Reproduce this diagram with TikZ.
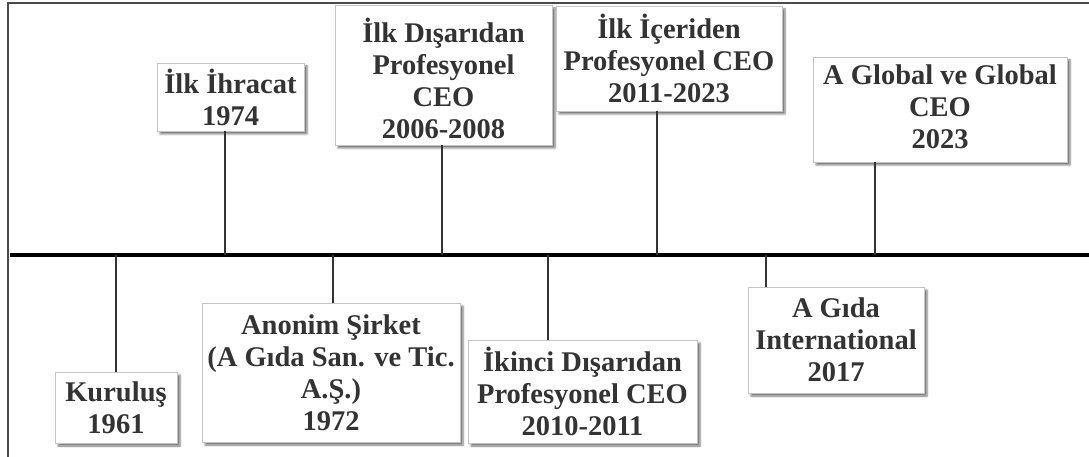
\documentclass[tikz,border=0pt]{standalone}
\usepackage{fontspec}
\setmainfont{Liberation Serif}
\usetikzlibrary{shadows.blur}

\definecolor{ink}{HTML}{333333}
\definecolor{edge}{HTML}{C4C4C4}
\definecolor{framecol}{HTML}{4A4A4A}

\tikzset{
  eventbox/.style={rectangle, draw=edge, line width=0.8bp, fill=white,
    inner sep=0pt,
    blur shadow={shadow xshift=3bp, shadow yshift=-3bp,
                 shadow blur radius=2bp, shadow opacity=55}},
  eventtext/.style={inner sep=0pt, align=center, text=ink,
    font=\bfseries\fontsize{28.5bp}{32bp}\selectfont},
  stem/.style={draw=ink, line width=1.2bp},
  axis/.style={draw=black, line width=4bp},
  border/.style={draw=framecol, line width=1.2bp},
}

\begin{document}
\begin{tikzpicture}[x=1bp, y=-1bp]
\useasboundingbox (0,0) rectangle (1089,457);

% outer frame (left and top edges)
\draw[border] (8,457) -- (8,3) -- (1089,3);

% time axis
\coordinate (axL) at (10,255);
\coordinate (axR) at (1089,255);
\draw[axis] (axL) -- (axR);

% anchor points of the stems on the axis
\coordinate (tkur)  at (116,255);
\coordinate (thr)   at (225,255);
\coordinate (tanon) at (333,255);
\coordinate (tdis)  at (442,255);
\coordinate (tik)   at (548,255);
\coordinate (tic)   at (657,255);
\coordinate (tintl) at (766,255);
\coordinate (tglob) at (875,255);

% event frames above the axis
\node[eventbox, minimum width=147bp, minimum height=68bp]  (hr)   at (230.5,97)  {};
\node[eventbox, minimum width=217bp, minimum height=140bp] (dis)  at (443.5,75)  {};
\node[eventbox, minimum width=226bp, minimum height=105bp] (ic)   at (669,58.5)  {};
\node[eventbox, minimum width=254bp, minimum height=105bp] (glob) at (940,109.5) {};

% event frames below the axis
\node[eventbox, minimum width=122bp, minimum height=71bp]  (kur)  at (116,407.5)   {};
\node[eventbox, minimum width=258bp, minimum height=139bp] (anon) at (331,372.5)   {};
\node[eventbox, minimum width=229bp, minimum height=103bp] (ik)   at (582.5,391.5) {};
\node[eventbox, minimum width=176bp, minimum height=106bp] (intl) at (836,340)     {};

% event captions
\node[eventtext]              (hr-t)   at (hr.center)   {İlk İhracat\\1974};
\node[eventtext, yshift=-3bp] (dis-t)  at (dis.center)  {İlk Dışarıdan\\Profesyonel\\CEO\\2006-2008};
\node[eventtext]              (ic-t)   at (ic.center)   {İlk İçeriden\\Profesyonel CEO\\2011-2023};
\node[eventtext, yshift=3bp]  (glob-t) at (glob.center) {A Global ve Global\\CEO\\2023};
\node[eventtext]              (kur-t)  at (kur.center)  {Kuruluş\\1961};
\node[eventtext]              (anon-t) at (anon.center) {Anonim Şirket\\(A Gıda San. ve Tic.\\A.Ş.)\\1972};
\node[eventtext]              (ik-t)   at (ik.center)   {İkinci Dışarıdan\\Profesyonel CEO\\2010-2011};
\node[eventtext]              (intl-t) at (intl.center) {A Gıda\\International\\2017};

% stems joining the axis to the events
\draw[stem] (thr)   -- (thr   |- hr.south);
\draw[stem] (tdis)  -- (tdis  |- dis.south);
\draw[stem] (tic)   -- (tic   |- ic.south);
\draw[stem] (tglob) -- (tglob |- glob.south);
\draw[stem] (tkur)  -- (tkur  |- kur.north);
\draw[stem] (tanon) -- (tanon |- anon.north);
\draw[stem] (tik)   -- (tik   |- ik.north);
\draw[stem] (tintl) -- (tintl |- intl.north);
\end{tikzpicture}
\end{document}
